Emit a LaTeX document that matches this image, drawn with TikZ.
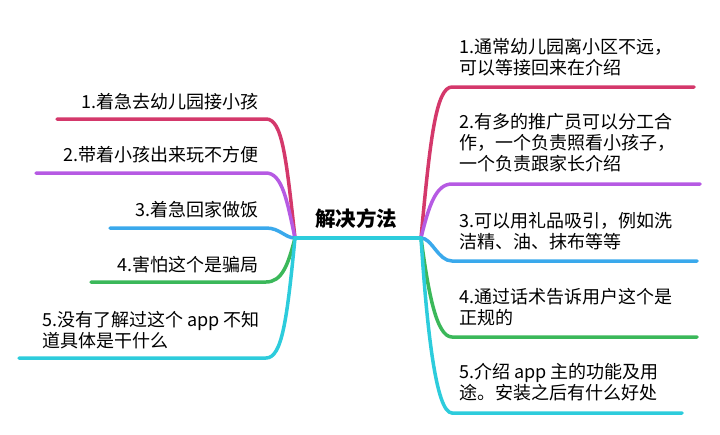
\documentclass[tikz,border=0pt]{standalone}
\usepackage{fontspec}
\setmainfont{Noto Sans CJK SC}
\definecolor{brRed}{HTML}{D4386B}
\definecolor{brPurple}{HTML}{B65AE3}
\definecolor{brBlue}{HTML}{3AA9EC}
\definecolor{brGreen}{HTML}{3BB85A}
\definecolor{brCyan}{HTML}{2DCCDC}

\begin{document}
\begin{tikzpicture}[x=1pt,y=-1pt,
  leaf/.style={inner sep=0pt,font=\fontsize{18}{21}\selectfont},
  branch/.style={line width=3.5pt,line cap=round}]
\useasboundingbox (0,0) rectangle (720,434);

\node[inner sep=0pt,font=\fontsize{20.5}{24}\selectfont\bfseries] (root) at (356,219) {解决方法};
\coordinate (HL) at (295,238);
\coordinate (HR) at (421,238);

\node[leaf,anchor=east] (L1) at (259,102) {1.着急去幼儿园接小孩};
\node[leaf,anchor=east] (L2) at (259,155) {2.带着小孩出来玩不方便};
\node[leaf,anchor=east] (L3) at (259,210) {3.着急回家做饭};
\node[leaf,anchor=east] (L4) at (259,265) {4.害怕这个是骗局};
\node[leaf,anchor=west,align=left] (L5) at (42,330) {5.没有了解过这个 app 不知\\道具体是干什么};

\coordinate (L1a) at (266,119); \coordinate (L1b) at (57,119);
\coordinate (L2a) at (266,173); \coordinate (L2b) at (36,173);
\coordinate (L3a) at (266,228); \coordinate (L3b) at (110,228);
\coordinate (L4a) at (266,282); \coordinate (L4b) at (91,282);
\coordinate (L5a) at (266,358); \coordinate (L5b) at (19,358);

\draw[branch,brRed] (HL) .. controls (286,155) and (282,119) .. (L1a) -- (L1b);
\draw[branch,brPurple] (HL) .. controls (287,200) and (282,173) .. (L2a) -- (L2b);
\draw[branch,brBlue] (HL) .. controls (285,238) and (280,228) .. (L3a) -- (L3b);
\draw[branch,brGreen] (HL) .. controls (288,265) and (282,282) .. (L4a) -- (L4b);
\draw[branch,brCyan] (HL) .. controls (287,320) and (282,358) .. (L5a) -- (L5b);

\node[leaf,anchor=west,align=left] (R1) at (459,57) {1.通常幼儿园离小区不远，\\可以等接回来在介绍};
\node[leaf,anchor=west,align=left] (R2) at (459,143) {2.有多的推广员可以分工合\\作，一个负责照看小孩子，\\一个负责跟家长介绍};
\node[leaf,anchor=west,align=left] (R3) at (459,231) {3.可以用礼品吸引，例如洗\\洁精、油、抹布等等};
\node[leaf,anchor=west,align=left] (R4) at (459,307) {4.通过话术告诉用户这个是\\正规的};
\node[leaf,anchor=west,align=left] (R5) at (459,382) {5.介绍 app 主的功能及用\\途。安装之后有什么好处};

\coordinate (R1a) at (452,87); \coordinate (R1b) at (694,87);
\coordinate (R2a) at (452,184); \coordinate (R2b) at (700,184);
\coordinate (R3a) at (452,261); \coordinate (R3b) at (697,261);
\coordinate (R4a) at (452,337); \coordinate (R4b) at (697,337);
\coordinate (R5a) at (452,413); \coordinate (R5b) at (682,413);

\draw[branch,brRed] (HR) .. controls (430,140) and (436,87) .. (R1a) -- (R1b);
\draw[branch,brPurple] (HR) .. controls (429,205) and (436,184) .. (R2a) -- (R2b);
\draw[branch,brBlue] (HR) .. controls (432,238) and (438,261) .. (R3a) -- (R3b);
\draw[branch,brGreen] (HR) .. controls (428,290) and (436,337) .. (R4a) -- (R4b);
\draw[branch,brCyan] (HR) .. controls (427,330) and (436,413) .. (R5a) -- (R5b);

\draw[branch,brCyan] (HL) -- (HR);
\end{tikzpicture}
\end{document}
